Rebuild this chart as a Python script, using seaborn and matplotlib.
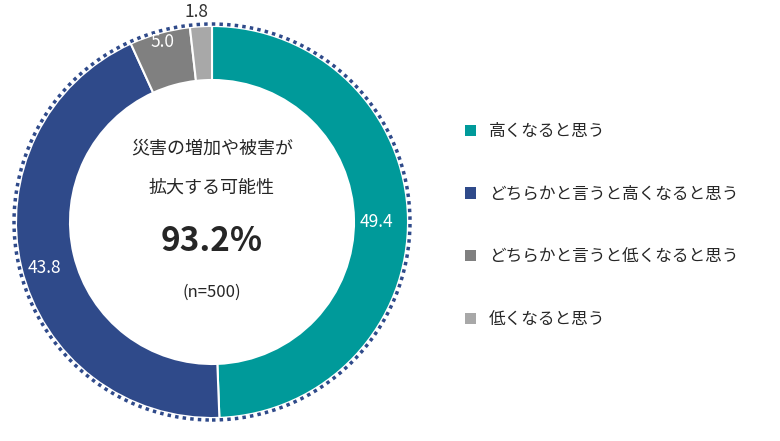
import matplotlib
matplotlib.use("Agg")
import matplotlib.pyplot as plt
import seaborn as sns
from matplotlib.patches import Circle, Patch

sns.set_theme(style="white")
plt.rcParams['font.family'] = ['Noto Sans CJK JP', 'DejaVu Sans']

categories = ["高くなると思う", "どちらかと言うと高くなると思う",
              "どちらかと言うと低くなると思う", "低くなると思う"]
values = [49.4, 43.8, 5.0, 1.8]
labels = ["49.4", "43.8", "5.0", "1.8"]
colors = sns.color_palette(["#009A9A", "#2F4A8A", "#808080", "#A8A8A8"])

fig = plt.figure(figsize=(7.8, 4.41), dpi=100)
ax = fig.add_axes([(212 - 200) / 780, (441 - 222 - 200) / 441, 400 / 780, 400 / 441])
wedges, _ = ax.pie(values, colors=colors, startangle=90, counterclock=False,
                   radius=0.98, wedgeprops=dict(width=0.27, edgecolor="white", linewidth=1.5))
ax.add_patch(Circle((0, 0), 0.99, fill=False, edgecolor="#2F4A8A", linestyle=(0, (1, 1.2)), linewidth=2.5))
ax.set_xlim(-1, 1); ax.set_ylim(-1, 1); ax.set_aspect("equal"); ax.axis("off")

pos = [(0.82, 0.0), (-0.84, -0.23), (-0.25, 0.9), (-0.08, 1.05)]
tcol = ["white", "white", "white", "#333333"]
for (x, y), t, c in zip(pos, labels, tcol):
    ax.text(x, y, t, ha="center", va="center", color=c, fontsize=12.5)

ax.text(0, 0.37, "災害の増加や被害が", ha="center", va="center", fontsize=13)
ax.text(0, 0.17, "拡大する可能性", ha="center", va="center", fontsize=13)
ax.text(0, -0.1, "93.2%", ha="center", va="center", fontsize=24, fontweight="bold")
ax.text(0, -0.35, "(n=500)", ha="center", va="center", fontsize=12)

handles = [Patch(facecolor=c, edgecolor="none") for c in colors]
fig.legend(handles, categories, loc="upper left", bbox_to_anchor=(450 / 780, 1 - 108 / 441),
           frameon=False, fontsize=12, labelspacing=2.75, handlelength=0.65, handleheight=0.65,
           handletextpad=0.8)
fig.savefig("out.png", dpi=100)
